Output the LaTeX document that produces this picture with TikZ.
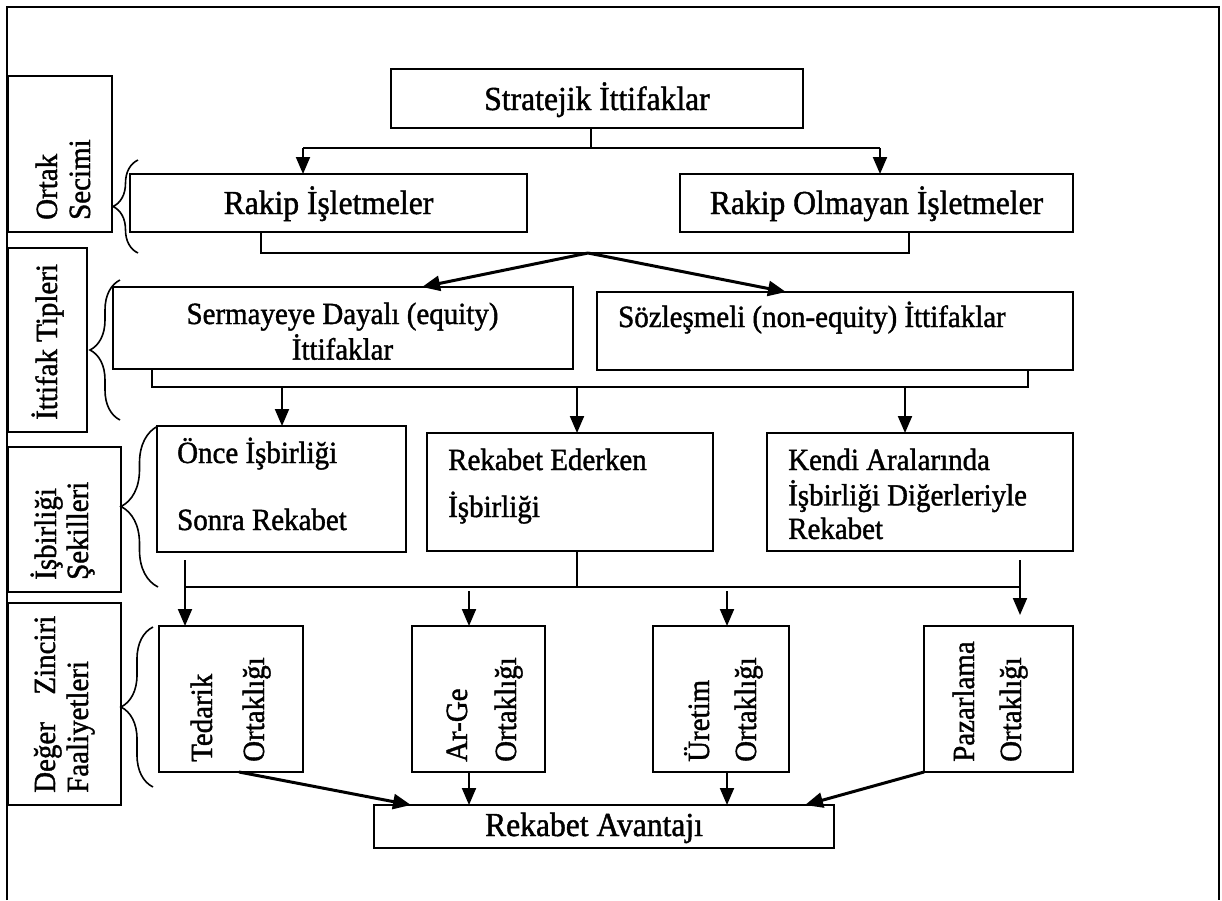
\documentclass[tikz,border=0pt]{standalone}
\usepackage{fontspec}
\setmainfont{Liberation Serif}
\newfontfamily\scanfont[FakeBold=1.3,FakeStretch=0.94]{Liberation Serif}
\usetikzlibrary{arrows.meta,decorations.pathreplacing}

% stacked lines whose baseline is the baseline of the first line
\newcommand\txtlines[2][l]{\begin{tabular}[t]{@{}#1@{}}#2\end{tabular}}

\begin{document}
\begin{tikzpicture}[x=1pt,y=-1pt,
  box/.style={draw, line width=2pt, rectangle, inner sep=0pt, outer sep=0pt, anchor=north west},
  bigtxt/.style={font=\scanfont\fontsize{33.6}{38}\selectfont, inner sep=0pt, anchor=base},
  smalltxt/.style={font=\scanfont\fontsize{30.8}{#1}\selectfont, inner sep=0pt, anchor=base west},
  smalltxt/.default=34,
  vtxt/.style={font=\scanfont\fontsize{30.8}{34}\selectfont, inner sep=0pt, rotate=90, anchor=base west},
  conn/.style={line width=2pt},
  arr/.style={line width=2pt, -{Triangle[length=17pt,width=14pt]}},
  arrd/.style={line width=3pt, -{Triangle[length=18pt,width=15pt]}},
  lbrace/.style={line width=1.6pt, decorate, decoration={brace, amplitude=#1}},
]
\useasboundingbox (0,0) rectangle (1222,900);

% outer frame, open at the bottom
\draw[line width=2pt] (7,900) -- (7,7) -- (1219,7) -- (1219,900);

% ---------- level labels on the left ----------
\node[box, minimum width=104pt, minimum height=156pt] (ortakL) at (8,76) {};
\node[box, minimum width=79pt,  minimum height=184pt] (ittifakL) at (8,248) {};
\node[box, minimum width=113pt, minimum height=145pt] (isbirL) at (8,447) {};
\node[box, minimum width=113pt, minimum height=202pt] (degerL) at (8,603) {};

\node[vtxt] (ortakL1) at (57,220) {Ortak};
\node[vtxt] (ortakL2) at (90,220) {Secimi};
\node[vtxt] (ittifakL1) at (57,420) {İttifak Tipleri};
\node[vtxt] (isbirL1) at (56,580) {İşbirliği};
\node[vtxt] (isbirL2) at (88,580) {Şekilleri};
\node[vtxt] (degerL1) at (55,793) {\hbox to 177pt{Değer\hfill Zinciri}};
\node[vtxt] (degerL2) at (88,793) {Faaliyetleri};

% braces joining the labels to their rows
\coordinate (b1a) at (138,253); \coordinate (b1b) at (138,160);
\coordinate (b2a) at (120,420); \coordinate (b2b) at (120,280);
\coordinate (b3a) at (158,587); \coordinate (b3b) at (158,426);
\coordinate (b4a) at (153,787); \coordinate (b4b) at (153,627);
\draw[lbrace=25] (b1a) -- (b1b);
\draw[lbrace=30] (b2a) -- (b2b);
\draw[lbrace=37] (b3a) -- (b3b);
\draw[lbrace=32] (b4a) -- (b4b);

% ---------- boxes ----------
\node[box, minimum width=412pt, minimum height=59pt] (strat) at (391,69) {};
\node[box, minimum width=397pt, minimum height=58pt] (rakip) at (130,174) {};
\node[box, minimum width=393pt, minimum height=58pt] (rakipol) at (680,174) {};
\node[box, minimum width=460pt, minimum height=82pt] (serm) at (113,287) {};
\node[box, minimum width=476pt, minimum height=78pt] (sozl) at (597,292) {};
\node[box, minimum width=249pt, minimum height=126pt] (once) at (157,426) {};
\node[box, minimum width=286pt, minimum height=118pt] (rekeder) at (427,433) {};
\node[box, minimum width=306pt, minimum height=118pt] (kendi) at (767,433) {};
\node[box, minimum width=144pt, minimum height=146pt] (tedarik) at (159,626) {};
\node[box, minimum width=133pt, minimum height=146pt] (arge) at (412,626) {};
\node[box, minimum width=136pt, minimum height=146pt] (uretim) at (653,626) {};
\node[box, minimum width=149pt, minimum height=146pt] (pazar) at (924,626) {};
\node[box, minimum width=460pt, minimum height=43pt] (avantaj) at (374,805) {};

% ---------- texts ----------
\node[bigtxt] (stratT) at (597,110) {Stratejik İttifaklar};
\node[bigtxt] (rakipT) at (328.5,214) {Rakip İşletmeler};
\node[bigtxt] (rakipolT) at (876.5,214) {Rakip Olmayan İşletmeler};
\node[smalltxt, anchor=base] (sermT) at (342.5,324) {\txtlines[c]{Sermayeye Dayalı (equity)\\İttifaklar}};
\node[smalltxt] (sozlT) at (618,327) {Sözleşmeli (non-equity) İttifaklar};
\node[smalltxt=67] (onceT) at (177,463) {\txtlines{Önce İşbirliği\\Sonra Rekabet}};
\node[smalltxt=47] (rekederT) at (448,470) {\txtlines{Rekabet Ederken\\İşbirliği}};
\node[smalltxt=33.5] (kendiT) at (788,470) {\txtlines{Kendi Aralarında\\İşbirliği Diğerleriyle\\Rekabet}};
\node[vtxt] (tedarikT1) at (212,762) {Tedarik};
\node[vtxt] (tedarikT2) at (264,762) {Ortaklığı};
\node[vtxt] (argeT1) at (467,762) {Ar-Ge};
\node[vtxt] (argeT2) at (516,762) {Ortaklığı};
\node[vtxt] (uretimT1) at (709,762) {Üretim};
\node[vtxt] (uretimT2) at (756,762) {Ortaklığı};
\node[vtxt] (pazarT1) at (974,762) {Pazarlama};
\node[vtxt] (pazarT2) at (1021,762) {Ortaklığı};
\node[bigtxt] (avantajT) at (594,836) {Rekabet Avantajı};

% ---------- connectors ----------
% Stratejik Ittifaklar -> partner types
\coordinate (s1) at (591,148);
\coordinate (s1L) at (303,148);
\coordinate (s1R) at (880,148);
\draw[conn] (s1 |- strat.south) -- (s1);
\draw[conn] (s1L) -- (s1R);
\draw[arr] (s1L) -- (s1L |- rakip.north);
\draw[arr] (s1R) -- (s1R |- rakipol.north);

% partner types -> alliance types
\coordinate (r1) at (261,253);
\coordinate (r2) at (909,253);
\coordinate (rm) at (588,253);
\draw[conn] (r1 |- rakip.south) -- (r1) -- (r2) -- (r2 |- rakipol.south);
\draw[arrd] (rm) -- (422,0 |- serm.north);
\draw[arrd] (rm) -- (786,0 |- sozl.north);

% alliance types -> forms of cooperation
\coordinate (q1) at (152,387);
\coordinate (q2) at (1028,387);
\coordinate (qa) at (282,387);
\coordinate (qb) at (577,387);
\coordinate (qc) at (905,387);
\draw[conn] (q1 |- serm.south) -- (q1) -- (q2) -- (q2 |- sozl.south);
\draw[arr] (qa) -- (qa |- once.north);
\draw[arr] (qb) -- (qb |- rekeder.north);
\draw[arr] (qc) -- (qc |- kendi.north);

% forms of cooperation -> value chain activities
\coordinate (p1) at (185,587);
\coordinate (p2) at (1020,587);
\coordinate (pm) at (577,587);
\coordinate (pt1) at (185,560);
\coordinate (pt2) at (1020,560);
\coordinate (pa) at (469,591);
\coordinate (pb) at (727,591);
\coordinate (pend) at (1020,615);
\draw[conn] (pm |- rekeder.south) -- (pm);
\draw[conn] (p1) -- (p2);
\draw[arr] (pt1) -- (pt1 |- tedarik.north);
\draw[arr] (pa) -- (pa |- arge.north);
\draw[arr] (pb) -- (pb |- uretim.north);
\draw[arr] (pt2) -- (pend);

% value chain activities -> Rekabet Avantaji
\draw[arrd] (239,0 |- tedarik.south) -- (411,0 |- avantaj.north);
\draw[arr] (pa |- arge.south) -- (pa |- avantaj.north);
\draw[arr] (pb |- uretim.south) -- (pb |- avantaj.north);
\draw[arrd] (pazar.south west) -- (805,0 |- avantaj.north);

\end{tikzpicture}
\end{document}
